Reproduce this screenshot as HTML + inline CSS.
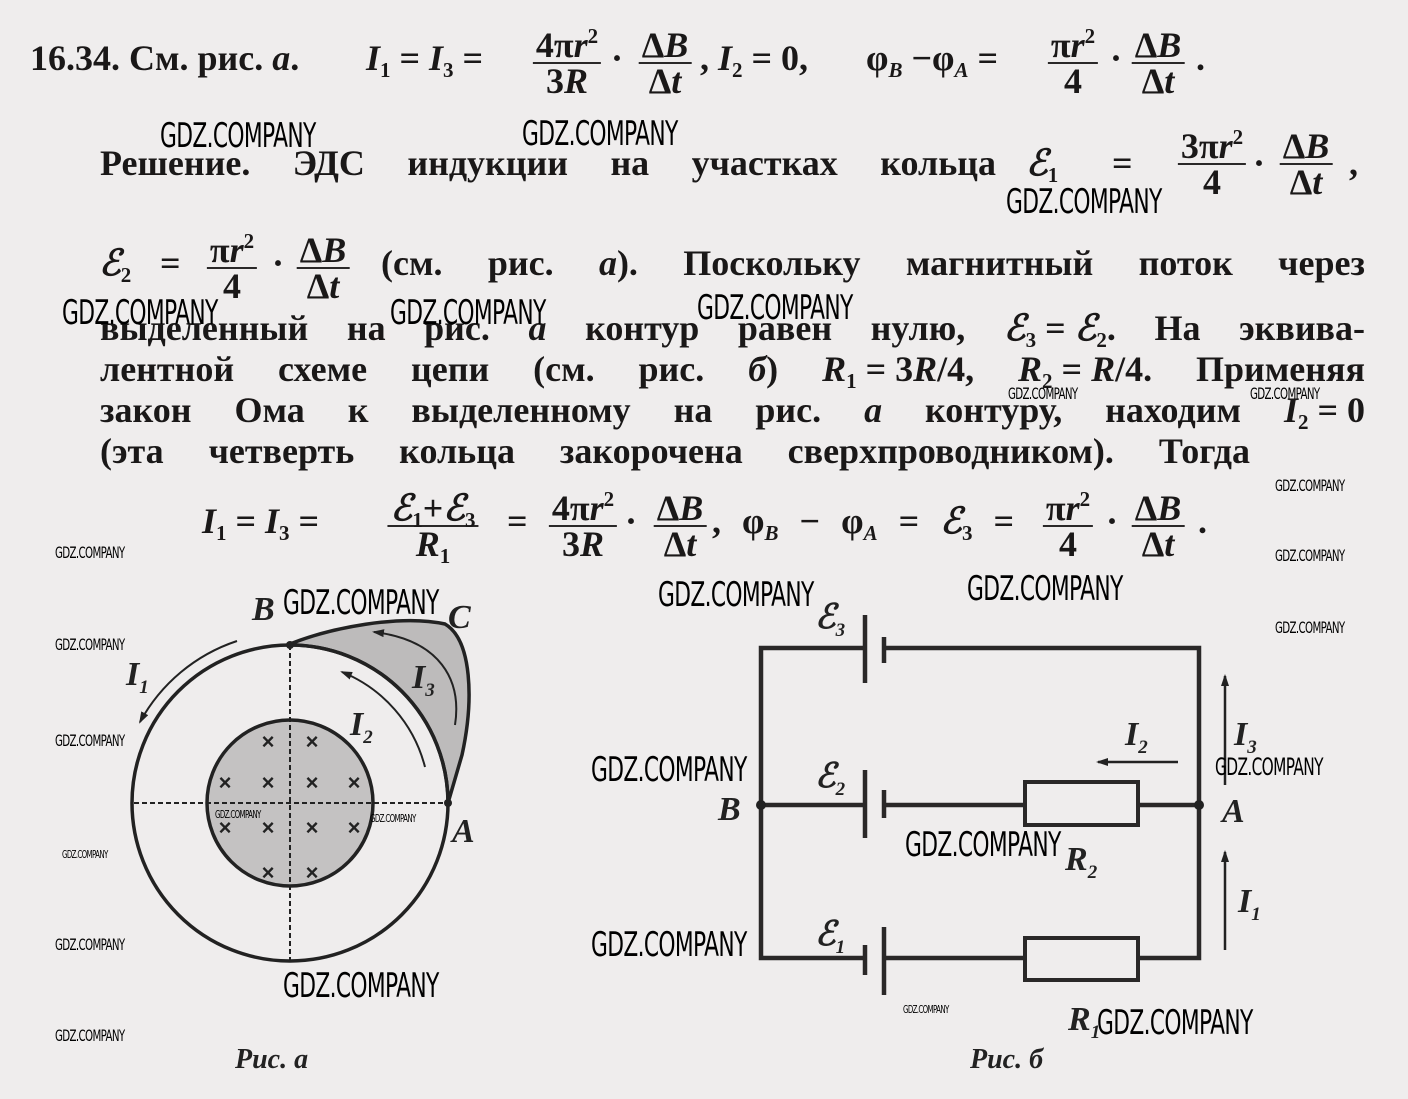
<!DOCTYPE html>
<html><head><meta charset="utf-8">
<style>
html,body{margin:0;padding:0}
body{width:1408px;height:1099px;position:relative;overflow:hidden;background:#efeded;font-family:"Liberation Serif",serif;color:#1a1818}
.ln{position:absolute;font-size:36px;font-weight:bold;line-height:40px;height:40px;white-space:nowrap;display:flex;justify-content:space-between}
.t{position:absolute;font-size:36px;font-weight:bold;line-height:40px;white-space:nowrap}
.fr{position:absolute;transform:translateX(-50%);display:flex;flex-direction:column;align-items:center;font-size:36px;font-weight:bold;line-height:34px;white-space:nowrap}
.fr .n{padding:0 3px;border-bottom:2.5px solid #2a2828}
i{font-style:italic}
sub{font-size:21px;vertical-align:-7px;line-height:0}
sup{font-size:21px;vertical-align:14px;line-height:0}
.wm{position:absolute;font-family:"DejaVu Sans",sans-serif;font-weight:normal;color:#000;transform:scaleX(.64);transform-origin:0 0;white-space:nowrap;letter-spacing:-1px}
.b{font-size:34px}.s{font-size:16px}.m{font-size:24px}.tt{font-size:11px}
</style></head><body>

<!-- line 1 -->
<div class="t" style="left:30px;top:38px">16.34. См. рис. <i>а</i>.</div>
<div class="t" style="left:366px;top:38px"><i>I</i><sub>1</sub> = <i>I</i><sub>3</sub> =</div>
<div class="fr" style="left:567px;top:28px"><span class="n">4π<i>r</i><sup>2</sup></span><span>3<i>R</i></span></div>
<div class="t" style="left:611px;top:38px">·</div>
<div class="fr" style="left:665px;top:28px"><span class="n">Δ<i>B</i></span><span>Δ<i>t</i></span></div>
<div class="t" style="left:700px;top:38px">, <i>I</i><sub>2</sub> = 0,</div>
<div class="t" style="left:866px;top:38px">φ<sub><i>B</i></sub> −φ<sub><i>A</i></sub> =</div>
<div class="fr" style="left:1073px;top:28px"><span class="n">π<i>r</i><sup>2</sup></span><span>4</span></div>
<div class="t" style="left:1110px;top:38px">·</div>
<div class="fr" style="left:1158px;top:28px"><span class="n">Δ<i>B</i></span><span>Δ<i>t</i></span></div>
<div class="t" style="left:1196px;top:38px">.</div>

<!-- line 2 -->
<div class="ln" style="left:100px;top:143px;width:896px"><span>Решение.</span><span>ЭДС</span><span>индукции</span><span>на</span><span>участках</span><span>кольца</span></div>
<div class="t" style="left:1026px;top:143px"><i>ℰ</i><sub>1</sub></div>
<div class="t" style="left:1112px;top:143px">=</div>
<div class="fr" style="left:1212px;top:129px"><span class="n">3π<i>r</i><sup>2</sup></span><span>4</span></div>
<div class="t" style="left:1253px;top:143px">·</div>
<div class="fr" style="left:1306px;top:129px"><span class="n">Δ<i>B</i></span><span>Δ<i>t</i></span></div>
<div class="t" style="left:1349px;top:143px">,</div>

<!-- line 3 -->
<div class="t" style="left:99px;top:243px"><i>ℰ</i><sub>2</sub></div>
<div class="t" style="left:160px;top:243px">=</div>
<div class="fr" style="left:232px;top:233px"><span class="n">π<i>r</i><sup>2</sup></span><span>4</span></div>
<div class="t" style="left:272px;top:243px">·</div>
<div class="fr" style="left:323px;top:233px"><span class="n">Δ<i>B</i></span><span>Δ<i>t</i></span></div>
<div class="ln" style="left:381px;top:243px;width:984px"><span>(см.</span><span>рис.</span><span><i>а</i>).</span><span>Поскольку</span><span>магнитный</span><span>поток</span><span>через</span></div>

<div class="ln" style="left:100px;top:308px;width:1265px"><span>выделенный</span><span>на</span><span>рис.</span><span><i>а</i></span><span>контур</span><span>равен</span><span>нулю,</span><span><i>ℰ</i><sub>3</sub> = <i>ℰ</i><sub>2</sub>.</span><span>На</span><span>эквива-</span></div>
<div class="ln" style="left:100px;top:349px;width:1265px"><span>лентной</span><span>схеме</span><span>цепи</span><span>(см.</span><span>рис.</span><span><i>б</i>)</span><span><i>R</i><sub>1</sub> = 3<i>R</i>/4,</span><span><i>R</i><sub>2</sub> = <i>R</i>/4.</span><span>Применяя</span></div>
<div class="ln" style="left:100px;top:390px;width:1265px"><span>закон</span><span>Ома</span><span>к</span><span>выделенному</span><span>на</span><span>рис.</span><span><i>а</i></span><span>контуру,</span><span>находим</span><span><i>I</i><sub>2</sub> = 0</span></div>
<div class="ln" style="left:100px;top:431px;width:1150px"><span>(эта</span><span>четверть</span><span>кольца</span><span>закорочена</span><span>сверхпроводником).</span><span>Тогда</span></div>

<!-- formula -->
<div class="t" style="left:202px;top:501px"><i>I</i><sub>1</sub> = <i>I</i><sub>3</sub> =</div>
<div class="fr" style="left:433px;top:491px"><span class="n"><i>ℰ</i><sub>1</sub>+<i>ℰ</i><sub>3</sub></span><span><i>R</i><sub>1</sub></span></div>
<div class="t" style="left:507px;top:501px">=</div>
<div class="fr" style="left:583px;top:491px"><span class="n">4π<i>r</i><sup>2</sup></span><span>3<i>R</i></span></div>
<div class="t" style="left:625px;top:501px">·</div>
<div class="fr" style="left:680px;top:491px"><span class="n">Δ<i>B</i></span><span>Δ<i>t</i></span></div>
<div class="ln" style="left:712px;top:501px;width:302px"><span>,</span><span>φ<sub><i>B</i></sub></span><span>−</span><span>φ<sub><i>A</i></sub></span><span>=</span><span><i>ℰ</i><sub>3</sub></span><span>=</span></div>
<div class="fr" style="left:1068px;top:491px"><span class="n">π<i>r</i><sup>2</sup></span><span>4</span></div>
<div class="t" style="left:1106px;top:501px">·</div>
<div class="fr" style="left:1158px;top:491px"><span class="n">Δ<i>B</i></span><span>Δ<i>t</i></span></div>
<div class="t" style="left:1198px;top:501px">.</div>

<svg width="1408" height="1099" style="position:absolute;left:0;top:0" xmlns="http://www.w3.org/2000/svg">
<defs><marker id="ar" markerWidth="12" markerHeight="8" refX="10" refY="4" orient="auto" markerUnits="userSpaceOnUse"><path d="M0,0 L12,4 L0,8 Z" fill="#222"/></marker></defs>
<g stroke="#222" fill="none">
<path d="M290,644 C330,628 400,614 445,624 C472,640 474,700 462,755 L448,803 A158,158 0 0 0 290,645 Z" fill="#bdbbbb" stroke-width="3.5"/>
<circle cx="290" cy="803" r="83" fill="#c4c2c2" stroke-width="3.5"/>
<circle cx="290" cy="803" r="158" stroke-width="3.5"/>
<path d="M134,803 H448 M290,645 V961" stroke-width="2" stroke-dasharray="5,3"/>
<path d="M237,641 A172,172 0 0 0 140,722" stroke-width="2" marker-end="url(#ar)"/>
<path d="M425,767 A140,140 0 0 0 342,672" stroke-width="2" marker-end="url(#ar)"/>
<path d="M455,725 C462,680 440,640 374,632" stroke-width="2" marker-end="url(#ar)"/>
</g>
<g font-family="Liberation Sans,sans-serif" font-size="22" font-weight="bold" fill="#222" text-anchor="middle">
<text x="268" y="749">×</text><text x="312" y="749">×</text>
<text x="225" y="790">×</text><text x="268" y="790">×</text><text x="312" y="790">×</text><text x="354" y="790">×</text>
<text x="225" y="835">×</text><text x="268" y="835">×</text><text x="312" y="835">×</text><text x="354" y="835">×</text>
<text x="268" y="880">×</text><text x="312" y="880">×</text>
</g>
<circle cx="290" cy="645" r="4" fill="#222"/><circle cx="448" cy="803" r="4" fill="#222"/>
<g font-family="Liberation Serif,serif" font-style="italic" font-weight="bold" font-size="34" fill="#222">
<text x="252" y="620">B</text><text x="448" y="628">C</text><text x="452" y="842">A</text>
<text x="126" y="685">I<tspan font-size="19" dy="8">1</tspan></text>
<text x="350" y="735">I<tspan font-size="19" dy="8">2</tspan></text>
<text x="412" y="688">I<tspan font-size="19" dy="8">3</tspan></text>
<text x="235" y="1068" font-size="28">Рис. а</text>
</g>

<g stroke="#2a2828" stroke-width="4.5" fill="none">
<path d="M865,648 H761 V958 H865 M884,648 H1199 V958 H1138 M761,805 H865 M884,805 H1025 M1138,805 H1199 M884,958 H1025"/>
<rect x="1025" y="782" width="113" height="43" stroke-width="4"/>
<rect x="1025" y="938" width="113" height="42" stroke-width="4"/>
<path d="M865,615 V683 M884,637 V663 M865,770 V838 M884,790 V818 M865,945 V975 M884,927 V995"/>
</g>
<g stroke="#222" stroke-width="2.5">
<path d="M1178,762 H1098" marker-end="url(#ar)"/>
<path d="M1225,785 V676" marker-end="url(#ar)"/>
<path d="M1225,950 V852" marker-end="url(#ar)"/>
</g>
<circle cx="761" cy="805" r="5" fill="#222"/><circle cx="1199" cy="805" r="5" fill="#222"/>
<g font-family="Liberation Serif,serif" font-style="italic" font-weight="bold" font-size="34" fill="#222">
<text x="718" y="820">B</text><text x="1222" y="822">A</text>
<text x="815" y="628">ℰ<tspan font-size="19" dy="8">3</tspan></text>
<text x="815" y="787">ℰ<tspan font-size="19" dy="8">2</tspan></text>
<text x="815" y="945">ℰ<tspan font-size="19" dy="8">1</tspan></text>
<text x="1065" y="870">R<tspan font-size="19" dy="8">2</tspan></text>
<text x="1068" y="1030">R<tspan font-size="19" dy="8">1</tspan></text>
<text x="1125" y="745">I<tspan font-size="19" dy="8">2</tspan></text>
<text x="1234" y="745">I<tspan font-size="19" dy="8">3</tspan></text>
<text x="1238" y="912">I<tspan font-size="19" dy="8">1</tspan></text>
<text x="970" y="1068" font-size="28">Рис. б</text>
</g>
</svg>

<div class="wm b" style="left:160px;top:116px">GDZ.COMPANY</div>
<div class="wm b" style="left:522px;top:114px">GDZ.COMPANY</div>
<div class="wm b" style="left:1006px;top:182px">GDZ.COMPANY</div>
<div class="wm b" style="left:62px;top:293px">GDZ.COMPANY</div>
<div class="wm b" style="left:390px;top:293px">GDZ.COMPANY</div>
<div class="wm b" style="left:697px;top:288px">GDZ.COMPANY</div>
<div class="wm s" style="left:1008px;top:384px">GDZ.COMPANY</div>
<div class="wm s" style="left:1250px;top:384px">GDZ.COMPANY</div>
<div class="wm s" style="left:1275px;top:476px">GDZ.COMPANY</div>
<div class="wm s" style="left:55px;top:543px">GDZ.COMPANY</div>
<div class="wm s" style="left:1275px;top:546px">GDZ.COMPANY</div>
<div class="wm b" style="left:967px;top:569px">GDZ.COMPANY</div>
<div class="wm b" style="left:658px;top:575px">GDZ.COMPANY</div>
<div class="wm b" style="left:283px;top:583px">GDZ.COMPANY</div>
<div class="wm s" style="left:1275px;top:618px">GDZ.COMPANY</div>
<div class="wm s" style="left:55px;top:635px">GDZ.COMPANY</div>
<div class="wm s" style="left:55px;top:731px">GDZ.COMPANY</div>
<div class="wm m" style="left:1215px;top:753px">GDZ.COMPANY</div>
<div class="wm b" style="left:591px;top:750px">GDZ.COMPANY</div>
<div class="wm tt" style="left:215px;top:808px">GDZ.COMPANY</div>
<div class="wm tt" style="left:370px;top:812px">GDZ.COMPANY</div>
<div class="wm tt" style="left:62px;top:848px">GDZ.COMPANY</div>
<div class="wm b" style="left:905px;top:825px">GDZ.COMPANY</div>
<div class="wm s" style="left:55px;top:935px">GDZ.COMPANY</div>
<div class="wm b" style="left:591px;top:925px">GDZ.COMPANY</div>
<div class="wm b" style="left:283px;top:966px">GDZ.COMPANY</div>
<div class="wm tt" style="left:903px;top:1003px">GDZ.COMPANY</div>
<div class="wm b" style="left:1097px;top:1003px">GDZ.COMPANY</div>
<div class="wm s" style="left:55px;top:1026px">GDZ.COMPANY</div>
</body></html>
